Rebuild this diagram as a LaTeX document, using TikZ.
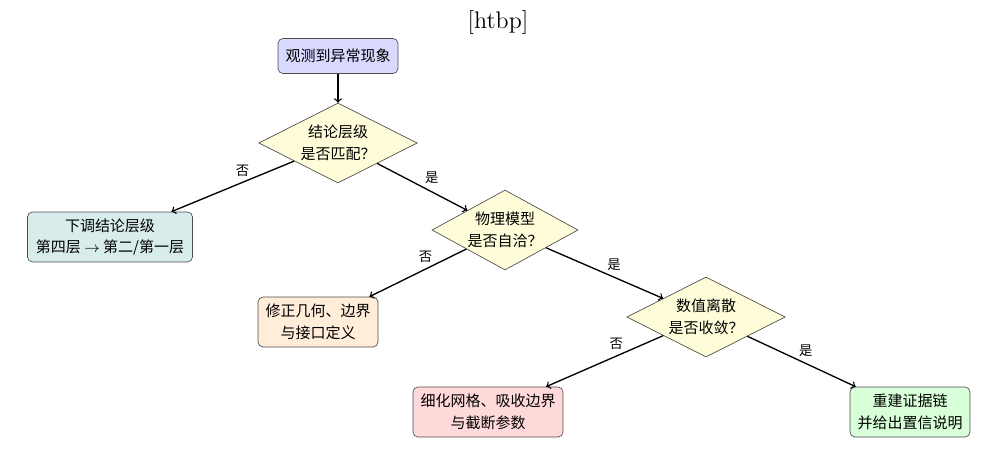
\documentclass[tikz,border=0pt]{standalone}
\usepackage{fontspec}
\newfontfamily\cjk{Noto Sans CJK SC}
\usepackage{tikz}
\usetikzlibrary{shapes.geometric}

\tikzset{
  box/.style={draw=black!70, rounded corners=3pt, align=center, font=\cjk\small,
              minimum height=30pt, inner sep=3pt},
  decide/.style={diamond, draw=black!70, fill=yellow!15, align=center, font=\cjk\small,
                 minimum width=95pt, minimum height=48pt, inner sep=0pt, aspect=2},
  flow/.style={thick, ->, black},
  lbl/.style={font=\cjk\footnotesize}
}

\begin{document}
\begin{tikzpicture}[x=0.6pt, y=-0.6pt]

      \useasboundingbox (0,0) rectangle (998,449);

      %title
      \node (title) at (498,22) {\Large [htbp]};

      %start
      \node [box, fill=blue!15, minimum width=72pt, minimum height=21pt] (obs) at (338,56) {观测到异常现象};

      %decisions
      \node [decide] (lvl)  at (338,143) {结论层级\\[2pt]是否匹配？};
      \node [decide, minimum width=75pt] (phys) at (505,230) {物理模型\\[2pt]是否自洽？};
      \node [decide] (num)  at (706,317) {数值离散\\[2pt]是否收敛？};

      %outcomes
      \node [box, fill=teal!15, minimum width=99pt] (down) at (110,237)
            {下调结论层级\\[2pt]第四层 $\rightarrow$ 第二/第一层};
      \node [box, fill=orange!15, minimum width=72pt] (geom) at (318,322)
            {修正几何、边界\\[2pt]与接口定义};
      \node [box, fill=red!15, minimum width=90pt] (mesh) at (488,412)
            {细化网格、吸收边界\\[2pt]与截断参数};
      \node [box, fill=green!15, minimum width=72pt] (chain) at (910,412)
            {重建证据链\\[2pt]并给出置信说明};

      %connectors
      \draw [flow] (obs) -- (lvl);
      \draw [flow] (lvl) -- node [lbl, pos=0.42, above] {否} (down);
      \draw [flow] (lvl) -- node [lbl, pos=0.5, above right=-2pt] {是} (phys);
      \draw [flow] (phys) -- node [lbl, pos=0.42, above] {否} (geom);
      \draw [flow] (phys) -- node [lbl, pos=0.5, above right=-2pt] {是} (num);
      \draw [flow] (num) -- node [lbl, pos=0.4, above] {否} (mesh);
      \draw [flow] (num) -- node [lbl, pos=0.45, above right=-2pt] {是} (chain);
\end{tikzpicture}
\end{document}
